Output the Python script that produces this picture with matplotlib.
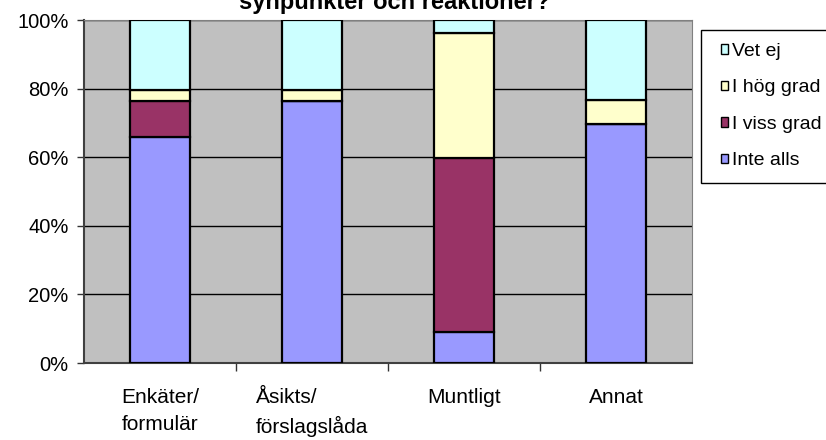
import matplotlib
matplotlib.use("Agg")
import matplotlib.pyplot as plt
import matplotlib.transforms as mtransforms
from matplotlib.patches import Rectangle
import numpy as np

plt.rcParams['font.family'] = ['Liberation Sans', 'DejaVu Sans']

categories = ["Enkäter/\nformulär", "Åsikts/\nförslagslåda", "Muntligt", "Annat"]
inte_alls = [66.0, 76.5, 9.0, 69.6]
i_viss_grad = [10.5, 0.0, 50.7, 0.0]
i_hog_grad = [3.0, 3.0, 36.6, 7.0]
vet_ej = [20.5, 20.5, 3.7, 23.4]
series_names = ["Inte alls", "I viss grad", "I hög grad", "Vet ej"]
colors = ["#9999FF", "#993366", "#FFFFCC", "#CCFFFF"]
title = "synpunkter och reaktioner?"

W, H = 826, 440
fig = plt.figure(figsize=(W / 100, H / 100), dpi=100)
ax = fig.add_axes([84 / W, 77 / H, 608 / W, 343 / H])
ax.set_facecolor("#C0C0C0")

x = np.arange(len(categories))
series = [inte_alls, i_viss_grad, i_hog_grad, vet_ej]
bottom = np.zeros(len(categories))
handles = []
for vals, name, c in zip(series, series_names, colors):
    vals = np.array(vals)
    b = ax.bar(x, vals, bottom=bottom, width=0.395, color=c, edgecolor="black",
               linewidth=1.6, label=name, zorder=3)
    handles.append(b)
    bottom += vals

ax.set_xlim(-0.5, len(categories) - 0.5)
ax.set_ylim(0, 100)
ax.set_yticks(np.arange(0, 101, 20))
ax.set_yticklabels([f"{v}%" for v in range(0, 101, 20)], fontsize=14.5)
ax.yaxis.grid(True, color="black", linewidth=1.0, zorder=1)
ax.set_axisbelow(True)
ax.tick_params(axis='y', length=5, width=1, direction='out', pad=6,
               color="#333333")

ax.set_xticks(np.arange(0.5, len(categories) - 1, 1.0))
ax.set_xticklabels([])
ax.tick_params(axis='x', length=6, width=1, direction='out', color="#333333")

trans = mtransforms.blended_transform_factory(ax.transData, ax.transAxes)
for i, lab in enumerate(categories):
    ax.text(i, -25 / 343, lab, ha='center', va='top', fontsize=15,
            multialignment='left' if i == 1 else 'center',
            linespacing=1.53, transform=trans)

for s in ["top", "right"]:
    ax.spines[s].set_color("#808080")
for s in ["left", "bottom"]:
    ax.spines[s].set_color("#404040")
    ax.spines[s].set_linewidth(1.5)

fig.text(395 / W, 1 - 9.5 / H, title, ha='center', va='baseline',
         fontsize=17, fontweight='bold')

# legend frame (extends past the right edge like the reference)
fig.patches.append(Rectangle((701 / W, 1 - 183 / H), 140 / W, 153 / H,
                             transform=fig.transFigure, facecolor="white",
                             edgecolor="black", linewidth=1.0, zorder=0))

leg = fig.legend(handles[::-1], series_names[::-1], loc='upper left',
                 bbox_to_anchor=(721 / W, 1 - 43 / H), fontsize=14,
                 frameon=False,
                 handlelength=0.38, handleheight=0.38, handletextpad=0.2,
                 labelspacing=1.0, borderpad=0, borderaxespad=0)
for h in leg.legend_handles:
    h.set_edgecolor("black")
    h.set_linewidth(1.0)

fig.savefig("out.png", dpi=100)
